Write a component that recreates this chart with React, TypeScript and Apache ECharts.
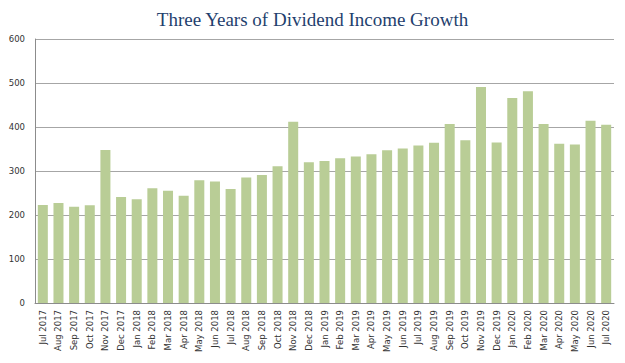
import React, { useEffect, useRef } from "react";
import * as echarts from "echarts";

const categories = [
  "Jul 2017", "Aug 2017", "Sep 2017", "Oct 2017", "Nov 2017", "Dec 2017",
  "Jan 2018", "Feb 2018", "Mar 2018", "Apr 2018", "May 2018", "Jun 2018",
  "Jul 2018", "Aug 2018", "Sep 2018", "Oct 2018", "Nov 2018", "Dec 2018",
  "Jan 2019", "Feb 2019", "Mar 2019", "Apr 2019", "May 2019", "Jun 2019",
  "Jul 2019", "Aug 2019", "Sep 2019", "Oct 2019", "Nov 2019", "Dec 2019",
  "Jan 2020", "Feb 2020", "Mar 2020", "Apr 2020", "May 2020", "Jun 2020",
  "Jul 2020",
];

const dividendIncome = [
  223, 227, 219, 222, 348, 241,
  236, 261, 255, 244, 279, 276,
  259, 285, 291, 311, 412, 320,
  323, 329, 333, 338, 347, 351,
  358, 364, 407, 370, 491, 365,
  466, 481, 407, 362, 360, 414,
  405,
];

const titleText = "Three Years of Dividend Income Growth";

export default function App() {
  const ref = useRef<HTMLDivElement>(null);
  useEffect(() => {
    document.body.style.margin = "0";
    if (!ref.current) return;
    const chart = echarts.init(ref.current, null, { renderer: "svg" });
    chart.setOption({
      animation: false,
      backgroundColor: "#ffffff",
      title: {
        text: titleText,
        left: "center",
        top: 5,
        textStyle: {
          fontFamily: "Liberation Serif",
          fontSize: 19,
          fontWeight: "normal",
          color: "#1F3F6E",
        },
      },
      grid: { left: 35, right: 11, top: 39, bottom: 60 },
      xAxis: {
        type: "category",
        data: categories,
        axisLine: { show: true, lineStyle: { color: "#8c8c8c", width: 1 } },
        axisTick: { show: false },
        axisLabel: {
          rotate: 90,
          interval: 0,
          fontFamily: "DejaVu Sans",
          fontSize: 8.5,
          color: "#333333",
          margin: 7,
        },
      },
      yAxis: {
        type: "value",
        min: 0,
        max: 600,
        interval: 100,
        axisLine: { show: true, lineStyle: { color: "#8c8c8c", width: 1 } },
        axisTick: { show: false },
        splitLine: { lineStyle: { color: "#a6a6a6", width: 1 } },
        axisLabel: {
          fontFamily: "DejaVu Sans",
          fontSize: 8.5,
          color: "#333333",
          margin: 10,
        },
      },
      series: [
        {
          type: "bar",
          data: dividendIncome,
          barCategoryGap: "36%",
          itemStyle: { color: "#B9CD96" },
        },
      ],
    });
    return () => chart.dispose();
  }, []);
  return <div ref={ref} style={{ width: 625, height: 363 }} />;
}
